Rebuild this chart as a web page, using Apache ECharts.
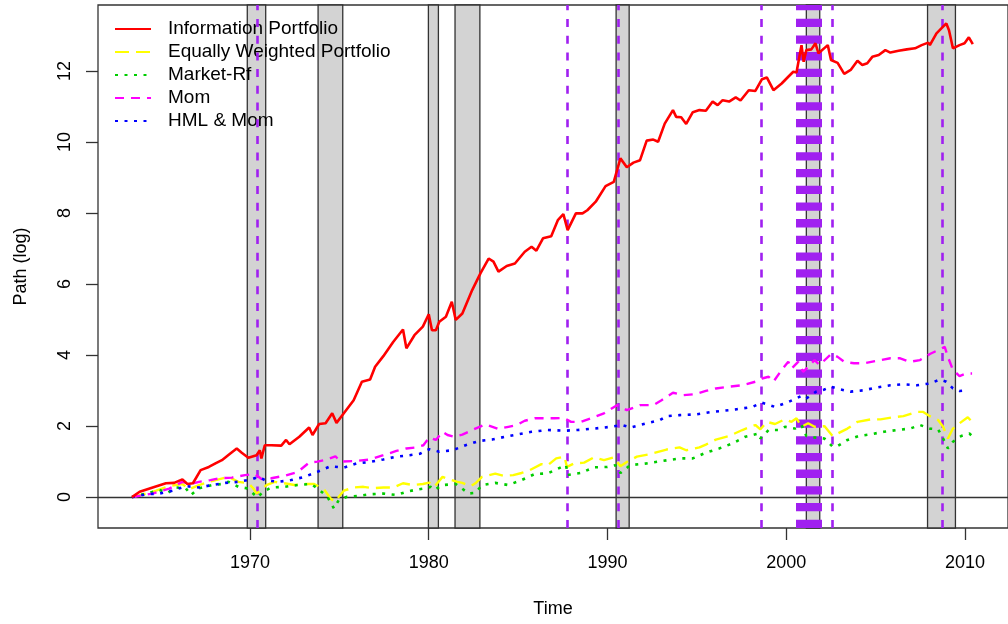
<!DOCTYPE html>
<html>
<head>
<meta charset="utf-8">
<script src="https://cdn.jsdelivr.net/npm/echarts@6/dist/echarts.min.js"></script>
<style>
  html, body { margin: 0; padding: 0; background: #fff; }
  #chart { width: 1008px; height: 624px; }
</style>
</head>
<body>
<div id="chart"></div>
<script>
// Cumulative log paths, [year, value]
const infoPortfolio = [
  [1963.4,0],[1963.83,0.15],[1964.56,0.27],[1965.30,0.39],[1965.76,0.40],[1966.22,0.50],[1966.50,0.37],
  [1966.81,0.39],[1967.24,0.76],[1967.70,0.85],[1968.07,0.95],[1968.43,1.04],[1968.90,1.23],[1969.26,1.37],
  [1969.54,1.25],[1969.91,1.11],[1970.37,1.18],[1970.55,1.32],[1970.64,1.09],[1970.83,1.46],[1971.19,1.46],
  [1971.75,1.45],[1972.02,1.61],[1972.21,1.49],[1972.76,1.70],[1973.31,1.96],[1973.50,1.75],[1973.87,2.06],
  [1974.23,2.08],[1974.60,2.36],[1974.84,2.09],[1975.25,2.36],[1975.80,2.73],[1976.26,3.25],[1976.72,3.31],
  [1977.00,3.67],[1977.46,3.97],[1978.01,4.37],[1978.56,4.72],[1978.75,4.19],[1979.20,4.56],[1979.67,4.80],
  [1980.00,5.15],[1980.18,4.70],[1980.40,4.70],[1980.59,4.94],[1980.96,5.08],[1981.29,5.50],[1981.51,4.99],
  [1981.88,5.17],[1982.43,5.83],[1982.89,6.30],[1983.35,6.72],[1983.62,6.63],[1983.90,6.35],[1984.36,6.51],
  [1984.82,6.58],[1985.37,6.91],[1985.75,7.05],[1986.02,6.94],[1986.39,7.29],[1986.85,7.35],[1987.22,7.80],
  [1987.53,7.97],[1987.77,7.52],[1988.23,7.99],[1988.60,7.99],[1988.87,8.08],[1989.34,8.32],[1989.89,8.76],
  [1990.35,8.88],[1990.72,9.54],[1991.08,9.29],[1991.45,9.42],[1991.82,9.49],[1992.19,10.04],[1992.56,10.07],
  [1992.83,10.01],[1993.20,10.52],[1993.66,10.90],[1993.84,10.71],[1994.12,10.70],[1994.40,10.51],[1994.77,10.84],
  [1995.14,10.90],[1995.50,10.88],[1995.88,11.14],[1996.16,11.04],[1996.44,11.18],[1996.80,11.14],[1997.17,11.26],
  [1997.44,11.17],[1997.90,11.46],[1998.27,11.44],[1998.64,11.77],[1998.91,11.82],[1999.28,11.46],[1999.74,11.65],
  [2000.11,11.84],[2000.39,11.98],[2000.57,11.96],[2000.85,12.73],[2000.97,12.26],[2001.12,12.59],[2001.40,12.61],
  [2001.63,12.78],[2001.80,12.50],[2002.32,12.73],[2002.50,12.31],[2002.87,12.23],[2003.24,11.92],[2003.60,12.03],
  [2003.98,12.29],[2004.25,12.17],[2004.53,12.22],[2004.81,12.40],[2005.17,12.45],[2005.54,12.59],[2005.82,12.52],
  [2006.28,12.57],[2006.74,12.61],[2007.20,12.64],[2007.57,12.73],[2007.94,12.80],[2008.03,12.73],[2008.40,13.06],
  [2008.77,13.25],[2008.95,13.34],[2009.10,13.15],[2009.32,12.64],[2009.69,12.73],[2009.97,12.78],[2010.21,12.95],
  [2010.43,12.76]
];

const equalWeighted = [
  [1963.4,0],[1964.20,0.10],[1964.75,0.18],[1965.49,0.31],[1966.22,0.37],[1966.59,0.22],[1967.15,0.34],
  [1967.70,0.43],[1968.25,0.50],[1968.80,0.57],[1969.35,0.43],[1969.91,0.39],[1970.18,0.25],[1970.37,0.10],
  [1970.64,0.20],[1970.92,0.34],[1971.38,0.43],[1971.93,0.39],[1972.49,0.34],[1973.04,0.37],[1973.59,0.37],
  [1974.14,0.22],[1974.51,-0.04],[1974.73,-0.13],[1974.97,0.01],[1975.25,0.18],[1975.80,0.27],[1976.35,0.29],
  [1976.91,0.25],[1977.46,0.27],[1978.01,0.27],[1978.56,0.39],[1979.12,0.34],[1979.67,0.37],[1980.03,0.41],
  [1980.31,0.29],[1980.77,0.57],[1981.14,0.50],[1981.60,0.43],[1981.88,0.40],[1982.34,0.31],[1982.61,0.39],
  [1982.98,0.57],[1983.72,0.66],[1984.18,0.60],[1984.73,0.62],[1985.19,0.68],[1985.65,0.76],[1986.30,0.93],
  [1986.66,0.90],[1987.13,1.09],[1987.59,1.14],[1987.73,0.85],[1988.14,0.95],[1988.69,0.97],[1989.24,1.12],
  [1989.80,1.04],[1990.35,1.12],[1990.72,0.87],[1991.08,0.99],[1991.64,1.14],[1992.38,1.21],[1993.30,1.34],
  [1994.03,1.40],[1994.40,1.32],[1995.14,1.40],[1995.50,1.48],[1996.06,1.62],[1996.80,1.72],[1997.54,1.89],
  [1998.27,2.03],[1998.55,1.91],[1998.91,2.12],[1999.37,2.06],[1999.92,2.19],[2000.29,2.12],[2000.57,2.22],
  [2000.85,1.98],[2001.22,2.08],[2001.58,1.98],[2002.13,2.00],[2002.59,1.72],[2002.87,1.79],[2003.42,1.93],
  [2003.98,2.12],[2004.72,2.19],[2005.27,2.19],[2006.00,2.25],[2006.55,2.28],[2007.29,2.40],[2007.66,2.40],
  [2008.03,2.28],[2008.49,2.17],[2008.77,1.98],[2009.04,1.65],[2009.32,1.93],[2009.69,2.08],[2010.15,2.25],
  [2010.39,2.12]
];

const marketRf = [
  [1963.4,0],[1964.20,0.10],[1964.93,0.20],[1965.39,0.12],[1965.86,0.27],[1966.41,0.25],[1966.69,0.06],
  [1967.15,0.25],[1967.88,0.34],[1968.43,0.37],[1968.80,0.43],[1969.35,0.29],[1969.81,0.25],[1970.18,0.10],
  [1970.42,-0.01],[1970.73,0.15],[1971.19,0.27],[1971.93,0.29],[1972.67,0.34],[1973.40,0.37],[1973.77,0.25],
  [1974.33,0.01],[1974.70,-0.32],[1974.97,-0.08],[1975.43,0.01],[1975.98,0.03],[1976.72,0.08],[1977.46,0.10],
  [1978.19,0.06],[1978.75,0.15],[1979.30,0.21],[1979.86,0.25],[1980.10,0.29],[1980.31,0.20],[1980.77,0.34],
  [1981.51,0.37],[1982.24,0.10],[1982.61,0.12],[1982.98,0.34],[1983.72,0.40],[1984.45,0.34],[1985.19,0.48],
  [1985.93,0.65],[1986.66,0.67],[1987.40,0.84],[1987.68,0.90],[1987.77,0.62],[1988.51,0.68],[1989.24,0.84],
  [1989.98,0.85],[1990.44,0.90],[1990.72,0.68],[1991.27,0.90],[1992.19,0.95],[1993.11,1.02],[1994.03,1.09],
  [1994.77,1.09],[1995.50,1.25],[1996.24,1.37],[1996.98,1.51],[1997.71,1.70],[1998.45,1.79],[1998.55,1.65],
  [1999.01,1.89],[1999.56,1.89],[1999.92,1.98],[2000.48,1.93],[2000.85,2.03],[2001.12,1.72],[2001.58,1.68],
  [2002.13,1.65],[2002.59,1.42],[2002.87,1.44],[2003.42,1.61],[2004.06,1.72],[2004.72,1.77],[2005.45,1.84],
  [2006.19,1.89],[2006.92,1.93],[2007.48,2.03],[2008.03,1.93],[2008.49,1.91],[2008.77,1.65],[2009.04,1.37],
  [2009.32,1.56],[2009.78,1.72],[2010.24,1.79],[2010.39,1.72]
];

const momentum = [
  [1963.4,0],[1964.56,0.10],[1965.49,0.24],[1966.22,0.43],[1966.69,0.37],[1967.15,0.43],[1967.79,0.48],
  [1968.25,0.53],[1968.99,0.55],[1969.72,0.62],[1970.28,0.65],[1970.64,0.51],[1971.19,0.53],[1971.93,0.60],
  [1972.67,0.71],[1973.31,0.97],[1973.77,1.00],[1974.33,1.06],[1974.78,1.15],[1975.06,1.00],[1975.98,1.02],
  [1976.72,1.06],[1977.46,1.18],[1978.19,1.30],[1978.75,1.37],[1979.30,1.40],[1979.70,1.46],[1980.03,1.68],
  [1980.40,1.61],[1980.77,1.84],[1981.05,1.75],[1981.41,1.70],[1981.88,1.76],[1982.61,1.93],[1983.17,2.05],
  [1983.90,1.92],[1984.45,1.98],[1984.92,2.03],[1985.37,2.15],[1985.93,2.22],[1986.48,2.22],[1987.03,2.22],
  [1987.55,2.23],[1987.96,2.12],[1988.51,2.12],[1989.06,2.22],[1989.80,2.36],[1990.53,2.59],[1991.08,2.45],
  [1991.82,2.59],[1992.56,2.59],[1993.02,2.73],[1993.66,2.94],[1994.22,2.87],[1994.90,2.90],[1995.50,2.99],
  [1996.06,3.06],[1996.80,3.11],[1997.54,3.15],[1998.27,3.25],[1998.64,3.34],[1999.01,3.39],[1999.28,3.25],
  [1999.74,3.58],[2000.11,3.81],[2000.29,3.62],[2000.66,3.81],[2000.94,3.53],[2001.22,3.67],[2001.58,3.86],
  [2001.86,3.72],[2002.50,4.03],[2002.87,3.95],[2003.24,3.81],[2003.79,3.77],[2004.34,3.77],[2005.08,3.84],
  [2005.82,3.91],[2006.37,3.91],[2006.92,3.81],[2007.48,3.86],[2008.03,4.03],[2008.49,4.14],[2008.86,4.23],
  [2009.04,3.95],[2009.32,3.58],[2009.69,3.41],[2010.06,3.48],[2010.39,3.48]
];

const hmlMom = [
  [1963.4,0],[1964.20,0.08],[1964.93,0.10],[1965.67,0.18],[1966.41,0.31],[1967.15,0.27],[1967.88,0.34],
  [1968.62,0.40],[1969.35,0.43],[1970.09,0.50],[1970.46,0.57],[1970.83,0.48],[1971.56,0.43],[1972.30,0.48],
  [1973.04,0.57],[1973.77,0.71],[1974.51,0.87],[1975.25,0.83],[1975.98,0.95],[1976.72,0.99],[1977.46,1.06],
  [1978.19,1.14],[1978.93,1.18],[1979.50,1.22],[1980.03,1.35],[1980.59,1.28],[1981.33,1.32],[1982.06,1.46],
  [1982.80,1.58],[1983.54,1.62],[1984.27,1.70],[1985.01,1.77],[1985.75,1.84],[1986.66,1.89],[1987.59,1.87],
  [1988.32,1.89],[1989.24,1.93],[1990.17,1.98],[1990.81,2.03],[1991.27,1.96],[1992.19,2.08],[1992.93,2.17],
  [1993.30,2.28],[1994.03,2.31],[1994.95,2.33],[1995.85,2.40],[1997.17,2.47],[1998.09,2.54],[1998.64,2.66],
  [1999.37,2.54],[2000.11,2.68],[2000.85,2.85],[2001.12,2.78],[2001.67,2.97],[2002.13,3.03],[2002.50,3.11],
  [2003.05,3.03],[2003.60,2.97],[2004.34,3.01],[2005.08,3.09],[2005.82,3.15],[2006.55,3.18],[2007.29,3.15],
  [2008.03,3.20],[2008.58,3.31],[2008.95,3.25],[2009.32,3.06],[2009.69,2.99],[2010.15,3.01]
];

// NBER recession periods [start, end]
const recessions = [
  [1969.85, 1970.88], [1973.81, 1975.19], [1979.98, 1980.54], [1981.47, 1982.86],
  [1990.48, 1991.21], [2001.12, 2001.87], [2007.90, 2009.46]
];

// Event dates (dashed purple markers)
const events = [1970.42, 1987.74, 1990.59, 1998.60, 2002.56, 2008.70];
const majorEvent = 2001.27;

const xTicks = [1970, 1980, 1990, 2000, 2010];
const yTicks = [0, 2, 4, 6, 8, 10, 12];

const seriesNames = ['Information Portfolio', 'Equally Weighted Portfolio', 'Market-Rf', 'Mom', 'HML & Mom'];

const FONT = 'Liberation Sans, Arial, sans-serif';
const PURPLE = '#A020F0';

const chart = echarts.init(document.getElementById('chart'), null, { renderer: 'canvas' });

function pathSeries(name, data, color, width, type) {
  return {
    name, type: 'line', data, showSymbol: false, symbol: 'none', z: 5,
    lineStyle: { color, width, type, cap: 'butt' },
    itemStyle: { color },
    emphasis: { disabled: true },
    animation: false
  };
}

const option = {
  animation: false,
  backgroundColor: '#ffffff',
  textStyle: { fontFamily: FONT },
  grid: {
    left: 98, top: 5, width: 921, height: 523,
    show: true, borderColor: '#333', borderWidth: 1.3, backgroundColor: 'transparent'
  },
  legend: {
    data: seriesNames,
    orient: 'vertical',
    left: 109, top: 14,
    itemWidth: 36, itemHeight: 14, itemGap: 3,
    itemStyle: { opacity: 0 },
    textStyle: { fontSize: 19, color: '#000', fontFamily: FONT, lineHeight: 20, padding: [0, 0, 0, 12] },
    selectedMode: false
  },
  xAxis: {
    type: 'value', min: 1961.5, max: 2012.4,
    name: 'Time', nameLocation: 'middle', nameGap: 72,
    nameTextStyle: { fontSize: 18, color: '#000', fontFamily: FONT },
    axisLine: { show: false, onZero: false },
    axisTick: { show: true, inside: false, length: 12, customValues: xTicks, lineStyle: { color: '#333', width: 1.3 } },
    axisLabel: { customValues: xTicks, fontSize: 18, color: '#000', margin: 26, fontFamily: FONT,
      formatter: v => String(v) },
    splitLine: { show: false }
  },
  yAxis: {
    type: 'value', min: -0.87, max: 13.86,
    name: 'Path (log)', nameLocation: 'middle', nameGap: 68,
    nameTextStyle: { fontSize: 18, color: '#000', fontFamily: FONT },
    axisLine: { show: false, onZero: false },
    axisTick: { show: true, inside: false, length: 12, customValues: yTicks, lineStyle: { color: '#333', width: 1.3 } },
    axisLabel: { customValues: yTicks, fontSize: 18, color: '#000', margin: 24, rotate: 90, fontFamily: FONT,
      formatter: v => String(v) },
    splitLine: { show: false }
  },
  series: [
    {
      // zero reference line
      name: 'zero', type: 'line', data: [], z: 1, silent: true,
      markLine: {
        silent: true, symbol: 'none', animation: false, label: { show: false },
        lineStyle: { color: '#333', width: 1.3, type: 'solid' },
        data: [{ yAxis: 0 }]
      }
    },
    {
      name: 'recessions', type: 'line', data: [], z: 2, silent: true,
      markArea: {
        silent: true, animation: false, label: { show: false },
        itemStyle: { color: '#D3D3D3', borderColor: '#333', borderWidth: 1.3, opacity: 1 },
        data: recessions.map(r => [{ xAxis: r[0] }, { xAxis: r[1] }])
      }
    },
    {
      name: 'events', type: 'line', data: [], z: 3, silent: true,
      markLine: {
        silent: true, symbol: 'none', animation: false, label: { show: false },
        lineStyle: { color: PURPLE, width: 2.6, type: [8, 8.7], cap: 'butt' },
        data: events.map(e => ({ xAxis: e })).concat([
          { xAxis: majorEvent, lineStyle: { color: PURPLE, width: 26, type: [8.3, 8.4], cap: 'butt' } }
        ])
      }
    },
    pathSeries(seriesNames[1], equalWeighted, '#FFFF00', 2.4, [14, 7]),
    pathSeries(seriesNames[2], marketRf, '#00CD00', 2.6, [3, 6.5]),
    pathSeries(seriesNames[3], momentum, '#FF00FF', 2.4, [9, 7]),
    pathSeries(seriesNames[4], hmlMom, '#0000FF', 2.6, [3, 6.5]),
    pathSeries(seriesNames[0], infoPortfolio, '#FF0000', 2.6, 'solid')
  ]
};

chart.setOption(option);
</script>
</body>
</html>
